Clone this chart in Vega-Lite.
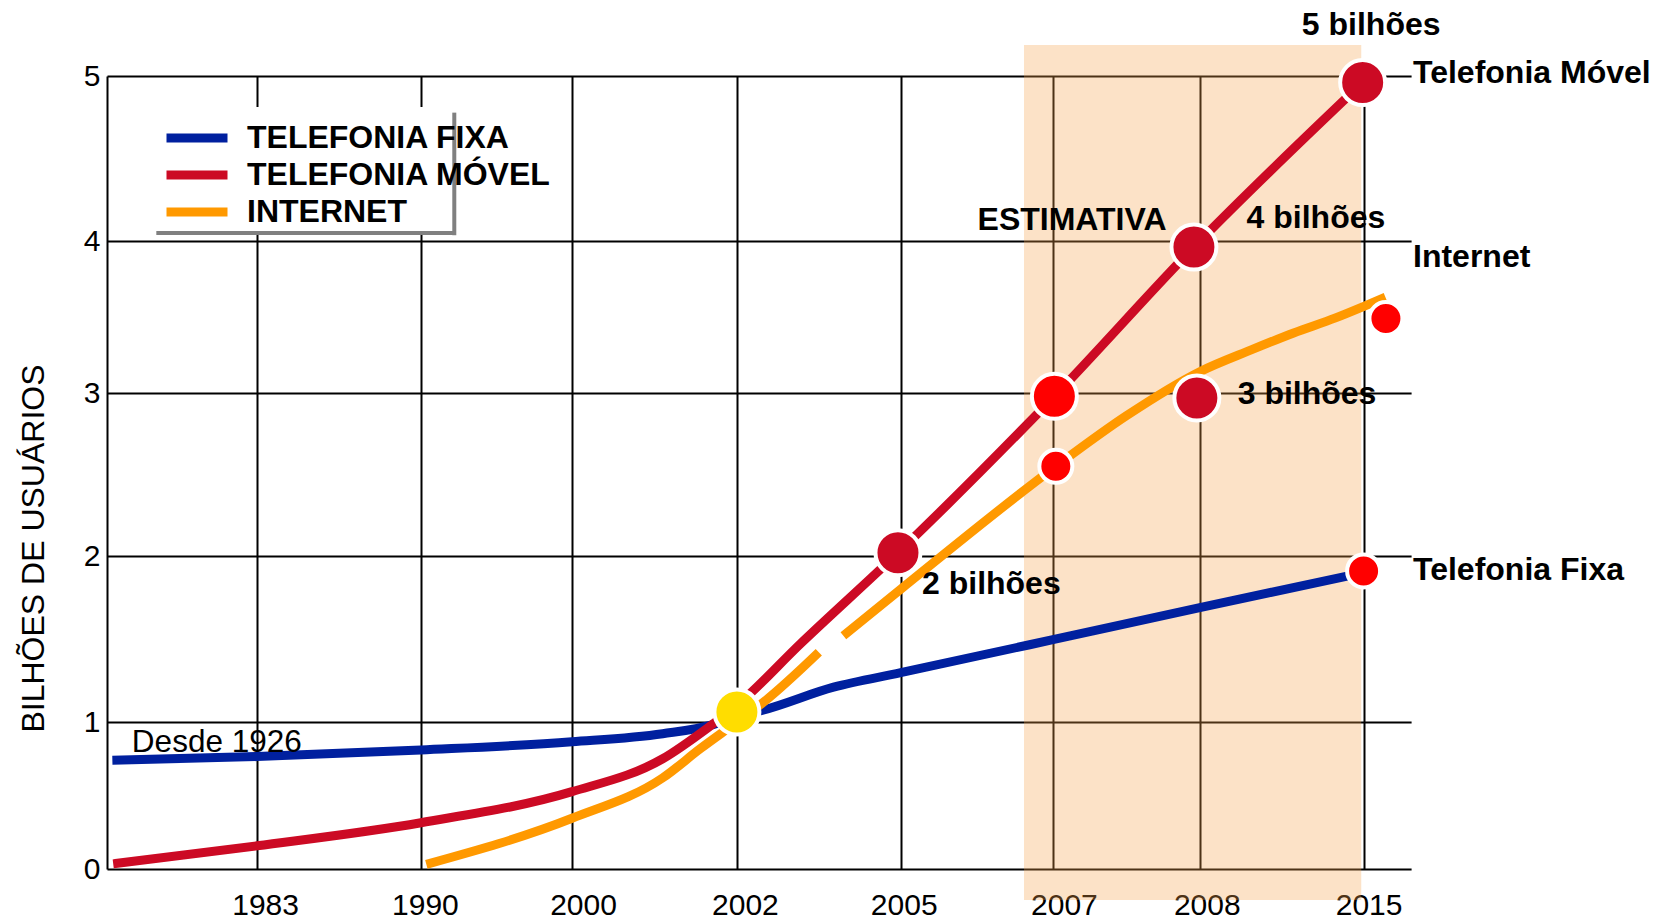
{
  "$schema": "https://vega.github.io/schema/vega-lite/v6.json",
  "width": 1304,
  "height": 793,
  "autosize": "none",
  "padding": {"left": 107, "top": 76, "right": 246, "bottom": 53},
  "background": "white",
  "config": {"view": {"stroke": null}, "font": "Liberation Sans"},
  "datasets": {
    "linhas": [
      {"serie": "Telefonia Fixa", "trecho": 1, "ano": 1976.25, "valor": 0.74},
      {"serie": "Telefonia Fixa", "trecho": 1, "ano": 1983, "valor": 0.765},
      {"serie": "Telefonia Fixa", "trecho": 1, "ano": 1990, "valor": 0.81},
      {"serie": "Telefonia Fixa", "trecho": 1, "ano": 2000, "valor": 0.865},
      {"serie": "Telefonia Fixa", "trecho": 1, "ano": 2001.1, "valor": 0.92},
      {"serie": "Telefonia Fixa", "trecho": 1, "ano": 2001.7, "valor": 0.98},
      {"serie": "Telefonia Fixa", "trecho": 1, "ano": 2002, "valor": 1.035},
      {"serie": "Telefonia Fixa", "trecho": 1, "ano": 2002.46, "valor": 1.07},
      {"serie": "Telefonia Fixa", "trecho": 1, "ano": 2003.77, "valor": 1.21},
      {"serie": "Telefonia Fixa", "trecho": 1, "ano": 2005, "valor": 1.297},
      {"serie": "Telefonia Fixa", "trecho": 1, "ano": 2007, "valor": 1.496},
      {"serie": "Telefonia Fixa", "trecho": 1, "ano": 2008, "valor": 1.689},
      {"serie": "Telefonia Fixa", "trecho": 1, "ano": 2015, "valor": 1.9},
      {"serie": "Internet", "trecho": 1, "ano": 1990.36, "valor": 0.032},
      {"serie": "Internet", "trecho": 1, "ano": 2000, "valor": 0.345},
      {"serie": "Internet", "trecho": 1, "ano": 2001.1, "valor": 0.62},
      {"serie": "Internet", "trecho": 1, "ano": 2001.56, "valor": 0.82},
      {"serie": "Internet", "trecho": 1, "ano": 2002, "valor": 1.0},
      {"serie": "Internet", "trecho": 1, "ano": 2002.49, "valor": 1.12},
      {"serie": "Internet", "trecho": 1, "ano": 2003.5, "valor": 1.42},
      {"serie": "Internet", "trecho": 2, "ano": 2003.95, "valor": 1.52},
      {"serie": "Internet", "trecho": 2, "ano": 2005, "valor": 1.8},
      {"serie": "Internet", "trecho": 2, "ano": 2007.02, "valor": 2.55},
      {"serie": "Internet", "trecho": 2, "ano": 2007.5, "valor": 2.86},
      {"serie": "Internet", "trecho": 2, "ano": 2008, "valor": 3.14},
      {"serie": "Internet", "trecho": 2, "ano": 2010.22, "valor": 3.285},
      {"serie": "Internet", "trecho": 2, "ano": 2012.01, "valor": 3.395},
      {"serie": "Internet", "trecho": 2, "ano": 2013.8, "valor": 3.494},
      {"serie": "Internet", "trecho": 2, "ano": 2015.01, "valor": 3.57},
      {"serie": "Internet", "trecho": 2, "ano": 2015.92, "valor": 3.63},
      {"serie": "Telefonia Móvel", "trecho": 1, "ano": 1976.29, "valor": 0.035},
      {"serie": "Telefonia Móvel", "trecho": 1, "ano": 1983, "valor": 0.158},
      {"serie": "Telefonia Móvel", "trecho": 1, "ano": 1990, "valor": 0.315},
      {"serie": "Telefonia Móvel", "trecho": 1, "ano": 2000, "valor": 0.526},
      {"serie": "Telefonia Móvel", "trecho": 1, "ano": 2001.1, "valor": 0.75},
      {"serie": "Telefonia Móvel", "trecho": 1, "ano": 2001.67, "valor": 0.97},
      {"serie": "Telefonia Móvel", "trecho": 1, "ano": 2002, "valor": 1.1},
      {"serie": "Telefonia Móvel", "trecho": 1, "ano": 2003.16, "valor": 1.47},
      {"serie": "Telefonia Móvel", "trecho": 1, "ano": 2004.95, "valor": 2.02},
      {"serie": "Telefonia Móvel", "trecho": 1, "ano": 2007.01, "valor": 2.98},
      {"serie": "Telefonia Móvel", "trecho": 1, "ano": 2007.96, "valor": 3.96},
      {"serie": "Telefonia Móvel", "trecho": 1, "ano": 2014.96, "valor": 4.96}
    ],
    "pontos": [
      {"serie": "Todas", "ano": 2002, "valor": 1.06, "tipo": "convergência"},
      {"serie": "Telefonia Móvel", "ano": 2004.95, "valor": 2.02, "tipo": "marco"},
      {"serie": "Telefonia Móvel", "ano": 2007.01, "valor": 2.98, "tipo": "início da estimativa"},
      {"serie": "Telefonia Móvel", "ano": 2007.96, "valor": 3.96, "tipo": "marco"},
      {"serie": "Telefonia Móvel", "ano": 2014.96, "valor": 4.96, "tipo": "marco"},
      {"serie": "Internet", "ano": 2007.02, "valor": 2.55, "tipo": "estimativa"},
      {"serie": "Internet", "ano": 2007.98, "valor": 2.97, "tipo": "marco"},
      {"serie": "Internet", "ano": 2015.94, "valor": 3.49, "tipo": "estimativa"},
      {"serie": "Telefonia Fixa", "ano": 2015, "valor": 1.91, "tipo": "estimativa"}
    ],
    "rotulos": [
      {"texto": "5 bilhões", "ano": 2012.36, "valor": 5.248},
      {"texto": "Telefonia Móvel", "ano": 2017.08, "valor": 4.956},
      {"texto": "ESTIMATIVA", "ano": 2006.01, "valor": 4.067},
      {"texto": "4 bilhões", "ano": 2010.0, "valor": 4.077},
      {"texto": "Internet", "ano": 2017.08, "valor": 3.831},
      {"texto": "3 bilhões", "ano": 2009.62, "valor": 2.933},
      {"texto": "2 bilhões", "ano": 2005.28, "valor": 1.771},
      {"texto": "Telefonia Fixa", "ano": 2017.08, "valor": 1.855}
    ],
    "nota": [
      {"texto": "Desde 1926", "ano": 1977.16, "valor": 0.798}
    ],
    "faixa": [
      {"ano": 2006.62, "ano_fim": 2014.9, "valor": -0.211, "valor_topo": 5.188}
    ],
    "caixa": [
      {"ano": 1978.02, "ano_fim": 1992.21, "valor": 4.048, "valor_topo": 4.812}
    ],
    "sombra": [
      {"ano": 1978.3, "ano_fim": 1992.21, "valor": 4.048, "valor_topo": 4.048},
      {"ano": 1992.21, "ano_fim": 1992.21, "valor": 4.035, "valor_topo": 4.778}
    ]
  },
  "encoding": {
    "x": {
      "field": "ano",
      "type": "quantitative",
      "title": null,
      "scale": {
        "type": "linear",
        "domain": [1976, 1983, 1990, 2000, 2002, 2005, 2007, 2008, 2015, 2017],
        "range": [0, 150.1, 313.9, 465, 629.9, 793.7, 945.9, 1092.8, 1256.6, 1304.1],
        "zero": false,
        "nice": false
      },
      "axis": {
        "values": [1983, 1990, 2000, 2002, 2005, 2007, 2008, 2015],
        "format": "d",
        "ticks": false,
        "tickSize": 0,
        "domain": false,
        "grid": true,
        "gridColor": "#000000",
        "gridWidth": 2,
        "gridOpacity": 1,
        "labelFont": "Liberation Sans",
        "labelFontSize": 30,
        "labelColor": "#000000",
        "labelPadding": 45,
        "labelBaseline": "alphabetic",
        "labelFlush": false,
        "labelOverlap": false,
        "labelOffset": {
          "condition": [
            {"test": "datum.value === 1983", "value": 8},
            {"test": "datum.value === 1990", "value": 4},
            {"test": "datum.value === 2000", "value": 11},
            {"test": "datum.value === 2002", "value": 8},
            {"test": "datum.value === 2005", "value": 3},
            {"test": "datum.value === 2007", "value": 11},
            {"test": "datum.value === 2008", "value": 7},
            {"test": "datum.value === 2015", "value": 5}
          ],
          "value": 0
        }
      }
    },
    "y": {
      "field": "valor",
      "type": "quantitative",
      "title": "BILHÕES DE USUÁRIOS",
      "scale": {
        "type": "linear",
        "domain": [0, 1, 2, 3, 4, 5],
        "range": [793, 646, 480, 317, 165, 0],
        "zero": false,
        "nice": false
      },
      "axis": {
        "values": [0, 1, 2, 3, 4, 5],
        "format": "d",
        "ticks": false,
        "tickSize": 0,
        "domain": true,
        "domainColor": "#000000",
        "domainWidth": 2,
        "grid": true,
        "gridColor": "#000000",
        "gridWidth": 2,
        "gridOpacity": 1,
        "labelFont": "Liberation Sans",
        "labelFontSize": 30,
        "labelColor": "#000000",
        "labelPadding": 7,
        "labelOverlap": false,
        "titleFont": "Liberation Sans",
        "titleFontSize": 32,
        "titleFontWeight": "normal",
        "titleColor": "#000000",
        "titleAngle": 270,
        "titleX": -74,
        "titleY": 472,
        "titleAlign": "center",
        "titleBaseline": "middle"
      }
    }
  },
  "layer": [
    {
      "data": {"name": "faixa"},
      "mark": {"type": "rect", "fill": "#f5a04a", "opacity": 0.31},
      "encoding": {
        "x2": {"field": "ano_fim"},
        "y2": {"field": "valor_topo"}
      }
    },
    {
      "data": {"name": "caixa"},
      "mark": {"type": "rect", "fill": "#ffffff"},
      "encoding": {
        "x2": {"field": "ano_fim"},
        "y2": {"field": "valor_topo"}
      }
    },
    {
      "data": {"name": "sombra"},
      "mark": {"type": "rule", "color": "#808080", "strokeWidth": 4},
      "encoding": {
        "x2": {"field": "ano_fim"},
        "y2": {"field": "valor_topo"}
      }
    },
    {
      "data": {"name": "linhas"},
      "mark": {"type": "line", "interpolate": "monotone", "strokeCap": "butt"},
      "encoding": {
        "color": {
          "field": "serie",
          "type": "nominal",
          "scale": {
            "domain": ["Telefonia Fixa", "Telefonia Móvel", "Internet"],
            "range": ["#00209f", "#cc0a24", "#ff9900"]
          },
          "legend": {
            "orient": "none",
            "legendX": 73,
            "legendY": 45,
            "title": null,
            "direction": "vertical",
            "symbolType": "M-2.44,0L2.44,0",
            "symbolSize": 625,
            "symbolStrokeWidth": 9,
            "labelFont": "Liberation Sans",
            "labelFontSize": 32,
            "labelFontWeight": "bold",
            "labelColor": "#000000",
            "labelOffset": 33,
            "labelLimit": 600,
            "rowPadding": 1,
            "padding": 0,
            "labelExpr": "upper(datum.label)"
          }
        },
        "strokeWidth": {
          "field": "serie",
          "type": "nominal",
          "scale": {
            "domain": ["Telefonia Fixa", "Telefonia Móvel", "Internet"],
            "range": [9, 9, 7]
          },
          "legend": null
        },
        "detail": {"field": "trecho", "type": "nominal"},
        "order": {"field": "ano", "type": "quantitative"}
      }
    },
    {
      "data": {"name": "pontos"},
      "transform": [{"filter": "datum.tipo !== 'estimativa'"}],
      "mark": {"type": "circle", "stroke": "#ffffff", "strokeWidth": 4, "opacity": 1, "size": 2025},
      "encoding": {
        "fill": {
          "field": "tipo",
          "type": "nominal",
          "scale": {
            "domain": ["convergência", "marco", "início da estimativa", "estimativa"],
            "range": ["#ffdd00", "#cc0a24", "#ff0000", "#ff0000"]
          },
          "legend": null
        }
      }
    },
    {
      "data": {"name": "pontos"},
      "transform": [{"filter": "datum.tipo === 'estimativa'"}],
      "mark": {"type": "circle", "stroke": "#ffffff", "strokeWidth": 4, "opacity": 1, "size": 1089},
      "encoding": {
        "fill": {
          "field": "tipo",
          "type": "nominal",
          "scale": {
            "domain": ["convergência", "marco", "início da estimativa", "estimativa"],
            "range": ["#ffdd00", "#cc0a24", "#ff0000", "#ff0000"]
          },
          "legend": null
        }
      }
    },
    {
      "data": {"name": "rotulos"},
      "mark": {
        "type": "text",
        "align": "left",
        "baseline": "alphabetic",
        "font": "Liberation Sans",
        "fontSize": 32,
        "fontWeight": "bold",
        "color": "#000000"
      },
      "encoding": {
        "text": {"field": "texto", "type": "nominal"}
      }
    },
    {
      "data": {"name": "nota"},
      "mark": {
        "type": "text",
        "align": "left",
        "baseline": "alphabetic",
        "font": "Liberation Sans",
        "fontSize": 31.5,
        "fontWeight": "normal",
        "color": "#000000"
      },
      "encoding": {
        "text": {"field": "texto", "type": "nominal"}
      }
    }
  ]
}
